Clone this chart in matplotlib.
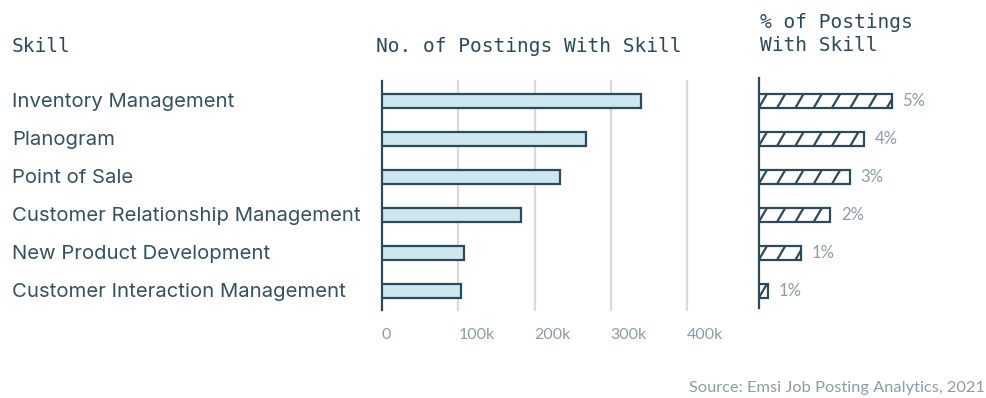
import matplotlib
matplotlib.use("Agg")
import matplotlib.pyplot as plt
from matplotlib.collections import LineCollection
from matplotlib.ticker import FuncFormatter
from matplotlib.transforms import blended_transform_factory

skills = [
    "Inventory Management",
    "Planogram",
    "Point of Sale",
    "Customer Relationship Management",
    "New Product Development",
    "Customer Interaction Management",
]
postings = [340000, 268000, 234000, 182000, 107000, 103000]
pct_postings = [5.0, 3.95, 3.42, 2.68, 1.58, 0.33]
pct_labels = ["5%", "4%", "3%", "2%", "1%", "1%"]
count_ticks = [0, 100000, 200000, 300000, 400000]

W, H = 987, 398
DARK = "#2c4a5a"
TEXT = "#35505f"
GRAY = "#8c9ba4"
FILL = "#cde7ee"
GRID = "#dadada"
ROW_PX = 38.0
ROW0_PX = 100.7

fig = plt.figure(figsize=(W / 100, H / 100), dpi=100)
fig.patch.set_facecolor("white")


def px_axes(x0, y0, x1, y1):
    return fig.add_axes([x0 / W, 1 - y1 / H, (x1 - x0) / W, (y1 - y0) / H])


def row_limits(top_px, bottom_px, n):
    # y-limits so that row i sits at ROW0_PX + i * ROW_PX in pixels
    top = -(ROW0_PX - top_px) / ROW_PX
    bottom = (n - 1) + (bottom_px - (ROW0_PX + (n - 1) * ROW_PX)) / ROW_PX
    return bottom, top


mono = "DejaVu Sans Mono"
sans = "Lato"
label_font = "Inter"
n = len(skills)
y = list(range(n))
BAR_H = 0.36

# Left panel: number of postings
ax = px_axes(382, 81, 687, 310)
ax.barh(y, postings, height=BAR_H, color=FILL, edgecolor=DARK, linewidth=1.6, zorder=3)
ax.set_xlim(0, 400000)
ax.set_ylim(*row_limits(81, 310, n))
for s in ("top", "right", "bottom"):
    ax.spines[s].set_visible(False)
ax.spines["left"].set_color(DARK)
ax.spines["left"].set_linewidth(1.6)
ax.set_xticks(count_ticks)
ax.xaxis.set_major_formatter(FuncFormatter(lambda v, p: "0" if v == 0 else f"{int(v / 1000)}k"))
ax.tick_params(axis="x", length=0, pad=13, labelsize=11.5, labelcolor=GRAY)
for lbl in ax.get_xticklabels():
    lbl.set_horizontalalignment("left")
    lbl.set_fontfamily(sans)
for t in count_ticks[1:]:
    ax.axvline(t, color=GRID, linewidth=1.6, zorder=1, clip_on=False)
ax.set_yticks([])

label_tf = blended_transform_factory(fig.transFigure, ax.transData)
for i, name in enumerate(skills):
    ax.annotate(name, (12 / W, i), xycoords=label_tf, xytext=(0, -1),
                textcoords="offset pixels", fontsize=14.6, color=TEXT,
                fontfamily=label_font, ha="left", va="center")

# Right panel: share of postings, hatched bars
ax2 = px_axes(759, 78, 900, 308)
bars = ax2.barh(y, pct_postings, height=BAR_H, color="white", edgecolor=DARK,
                linewidth=1.6, zorder=3)
ax2.set_xlim(0, 5.3)
ax2.set_ylim(*row_limits(78, 308, n))
for s in ("top", "right", "bottom"):
    ax2.spines[s].set_visible(False)
ax2.spines["left"].set_color(DARK)
ax2.spines["left"].set_linewidth(1.6)
ax2.set_xticks([])
ax2.set_yticks([])

# diagonal hatch strokes, clipped to each bar
px_per_unit = (900 - 759) / 5.3
step = 18.3 / px_per_unit
run = 8.0 / px_per_unit
for rect in bars.patches:
    y_lo = rect.get_y()
    y_hi = y_lo + rect.get_height()
    segs = []
    k = 0
    while k * step < rect.get_width() + step:
        x0 = k * step
        segs.append([(x0, y_hi), (x0 + run, y_lo)])
        k += 1
    lc = LineCollection(segs, colors=DARK, linewidths=1.6, zorder=4, capstyle="butt")
    ax2.add_collection(lc)
    lc.set_clip_path(rect)

for i, (v, lab) in enumerate(zip(pct_postings, pct_labels)):
    ax2.annotate(lab, (v, i), xytext=(7.5, 0), textcoords="offset points",
                 va="center", ha="left", fontsize=12, color=GRAY, fontfamily=sans)

# Column headers
fig.text(12 / W, 1 - 47 / H, "Skill", fontsize=14, color=DARK, fontfamily=mono, va="center")
fig.text(376 / W, 1 - 47 / H, "No. of Postings With Skill", fontsize=14, color=DARK,
         fontfamily=mono, va="center")
fig.text(760 / W, 1 - 34 / H, "% of Postings\nWith Skill", fontsize=14, color=DARK,
         fontfamily=mono, va="center", linespacing=1.25)

fig.text(985 / W, 1 - 388 / H, "Source: Emsi Job Posting Analytics, 2021", fontsize=11.8,
         color=GRAY, fontfamily=sans, ha="right", va="center")

fig.savefig("out.png", dpi=100, facecolor="white")
